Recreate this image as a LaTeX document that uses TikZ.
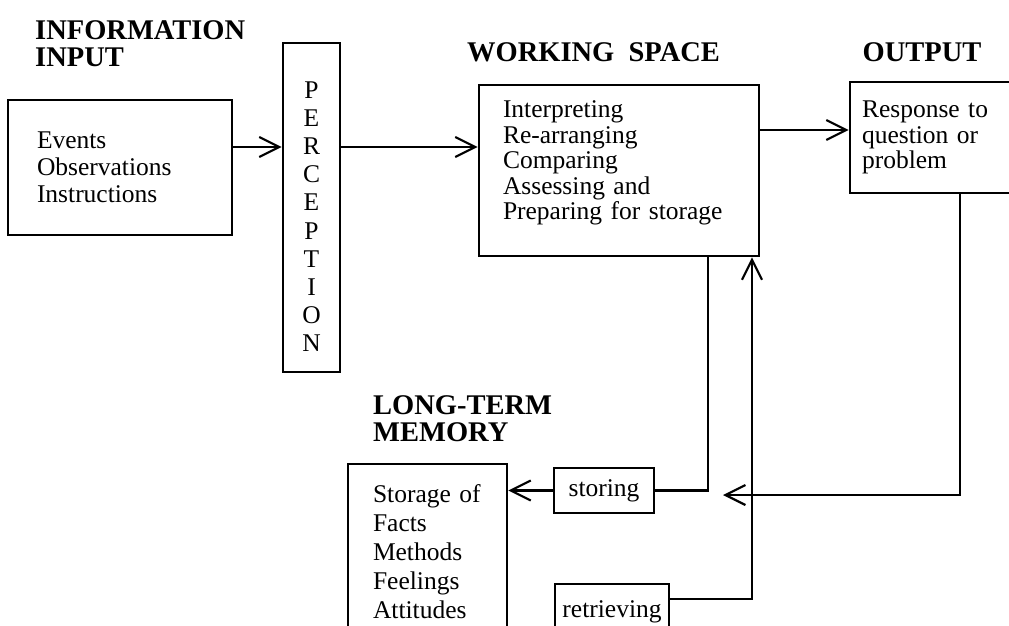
\documentclass[tikz,border=0pt]{standalone}
\usepackage{fontspec}
\setmainfont{Liberation Serif}
\usetikzlibrary{arrows.meta, positioning}

\begin{document}
\begin{tikzpicture}[
  x=1pt, y=-1pt,
  box/.style={draw, rectangle, line width=2.6pt, align=left, font=\fontsize{25.5}{25.5}\selectfont},
  title/.style={font=\fontsize{28.5}{27}\selectfont\bfseries, align=left, inner sep=0pt},
  line/.style={line width=2.2pt},
  >={Straight Barb[length=20pt, width=20pt]}
]
  \useasboundingbox (0,0) rectangle (1009,626);

  % headings
  \node[title, anchor=west] (tin) at (35,43.5) {INFORMATION\\INPUT};
  \node[title] (tws) at (593.5,52) {WORKING\ \ SPACE};
  \node[title] (tout) at (922,52) {OUTPUT};
  \node[title, anchor=west] (tltm) at (373,418.5) {LONG-TERM\\MEMORY};

  % boxes
  \node[box, minimum width=224pt, minimum height=135pt, text width=166pt, inner xsep=29pt,
        font=\fontsize{25.5}{27}\selectfont] (inp) at (120,167.5) {Events\\Observations\\Instructions};
  \node[box, align=center, minimum width=57pt, minimum height=329pt, inner xsep=0pt,
        font=\fontsize{25.5}{28.1}\selectfont] (perc) at (311.5,207.5)
        {\rule{0pt}{35pt}P\\E\\R\\C\\E\\P\\T\\I\\O\\N};
  \node[box, minimum width=280pt, minimum height=171pt, text width=232pt, inner xsep=24pt] (ws) at (619,170.5)
        {Interpreting\\Re-arranging\\Comparing\\Assessing and\\Preparing for storage\rule[-20pt]{0pt}{0pt}};
  \node[box, minimum width=161pt, minimum height=111pt, text width=137pt, inner xsep=12pt] (out) at (930.5,137.5)
        {Response to\\question or\\problem};
  \node[box, minimum width=159pt, minimum height=176pt, text width=109pt, inner xsep=25pt,
        font=\fontsize{25.5}{29}\selectfont] (ltm) at (427.5,552) {Storage of\\Facts\\Methods\\Feelings\\Attitudes};
  \node[box, align=center, minimum width=100pt, minimum height=45pt, inner sep=0pt] (store) at (604,490.5) {storing};
  \node[box, align=center, minimum width=114pt, minimum height=56pt, inner sep=0pt] (retr) at (612,612) {retrieving};

  % connectors
  \coordinate (join) at (723,495);
  \draw[line, ->] (inp.east |- 0,147) -- (perc.west |- 0,147);
  \draw[line, ->] (perc.east |- 0,147) -- (ws.west |- 0,147);
  \draw[line, ->] (ws.east |- 0,130) -- (out.west |- 0,130);
  \draw[line] (ws.south -| 708,0) |- (store.east);
  \draw[line, ->] (store.west) -- (ltm.east |- store.west);
  \draw[line, ->] (out.south -| 960,0) |- (join);
  \draw[line, ->] (retr.east |- 0,599) -| (ws.south -| 752,0);
\end{tikzpicture}
\end{document}
